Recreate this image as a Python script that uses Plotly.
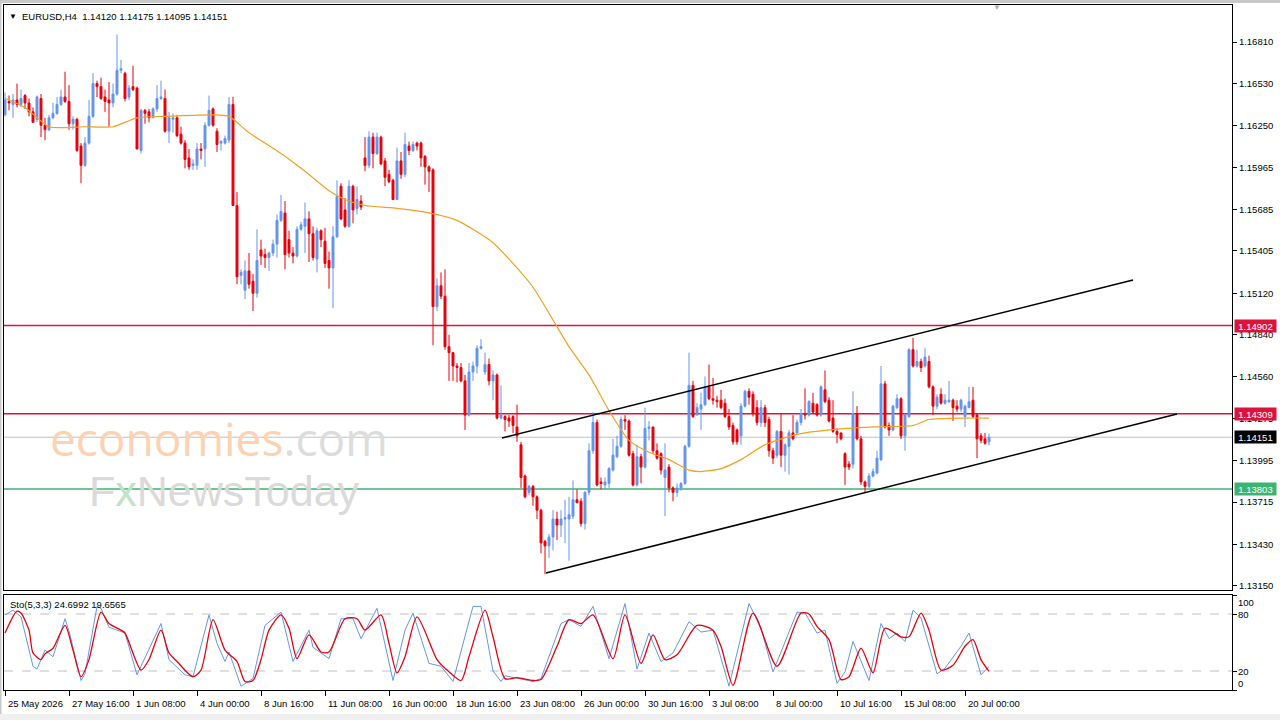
import plotly.graph_objects as go

# ---------------- data ----------------
open_ = [1.1632,1.1641,1.1639,1.1642,1.1639,1.1645,1.1640,1.1634,1.1629,1.1643,
         1.1625,1.1622,1.1630,1.1633,1.1639,1.1644,1.1641,1.1626,1.1629,1.1611,
         1.1598,1.1613,1.1631,1.1653,1.1651,1.1644,1.1642,1.1640,1.1646,1.1662,
         1.1660,1.1644,1.1651,1.1650,1.1608,1.1635,1.1634,1.1630,1.1636,1.1643,
         1.1643,1.1621,1.1629,1.1630,1.1619,1.1613,1.1603,1.1598,1.1598,1.1609,
         1.1609,1.1625,1.1636,1.1621,1.1613,1.1613,1.1615,1.1639,1.1571,1.1524,
         1.1514,1.1527,1.1520,1.1512,1.1541,1.1538,1.1536,1.1539,1.1545,1.1561,
         1.1566,1.1548,1.1539,1.1537,1.1555,1.1557,1.1562,1.1552,1.1535,1.1554,
         1.1547,1.1534,1.1529,1.1550,1.1584,1.1568,1.1557,1.1584,1.1569,1.1574,
         1.1603,1.1598,1.1617,1.1606,1.1617,1.1601,1.1592,1.1588,1.1575,1.1601,
         1.1592,1.1611,1.1608,1.1613,1.1613,1.1604,1.1597,1.1595,1.1503,1.1517,
         1.1510,1.1476,1.1472,1.1463,1.1462,1.1453,1.1430,1.1459,1.1463,1.1475,
         1.1459,1.1464,1.1453,1.1457,1.1428,1.1429,1.1428,1.1429,1.1422,1.1410,
         1.1389,1.1378,1.1382,1.1375,1.1366,1.1345,1.1342,1.1348,1.1360,1.1356,
         1.1360,1.1360,1.1362,1.1373,1.1372,1.1357,1.1378,1.1406,1.1425,1.1385,
         1.1383,1.1384,1.1393,1.1402,1.1409,1.1427,1.1426,1.1404,1.1383,1.1402,
         1.1395,1.1421,1.1422,1.1406,1.1404,1.1388,1.1395,1.1381,1.1378,1.1381,
         1.1384,1.1409,1.1450,1.1430,1.1434,1.1437,1.1449,1.1441,1.1440,1.1440,
         1.1438,1.1429,1.1423,1.1420,1.1416,1.1436,1.1446,1.1444,1.1435,1.1425,
         1.1435,1.1427,1.1406,1.1403,1.1419,1.1403,1.1409,1.1418,1.1418,1.1425,
         1.1431,1.1430,1.1438,1.1437,1.1430,1.1447,1.1440,1.1428,1.1419,1.1418,
         1.1404,1.1397,1.1397,1.1431,1.1414,1.1385,1.1382,1.1389,1.1391,1.1400,
         1.1451,1.1423,1.1420,1.1435,1.1441,1.1416,1.1429,1.1474,1.1463,1.1466,
         1.1463,1.1466,1.1449,1.1436,1.1444,1.1438,1.1439,1.1440,1.1436,1.1434,
         1.1429,1.1435,1.1440,1.1430,1.1416,1.1414,1.14120]
high = [1.1647,1.1645,1.1646,1.1653,1.1649,1.1646,1.1643,1.1637,1.1645,1.1646,
        1.1630,1.1632,1.1640,1.1644,1.1649,1.1661,1.1652,1.1631,1.1630,1.1613,
        1.1617,1.1642,1.1660,1.1655,1.1657,1.1649,1.1654,1.1653,1.1686,1.1669,
        1.1661,1.1652,1.1665,1.1651,1.1636,1.1636,1.1636,1.1637,1.1652,1.1655,
        1.1649,1.1634,1.1633,1.1632,1.1624,1.1615,1.1609,1.1602,1.1613,1.1613,
        1.1627,1.1645,1.1637,1.1623,1.1615,1.1618,1.1644,1.1644,1.1580,1.1528,
        1.1534,1.1539,1.1525,1.1555,1.1548,1.1542,1.1540,1.1548,1.1565,1.1578,
        1.1574,1.1554,1.1543,1.1557,1.1560,1.1573,1.1567,1.1557,1.1556,1.1555,
        1.1556,1.1540,1.1557,1.1588,1.1586,1.1576,1.1588,1.1585,1.1584,1.1578,
        1.1617,1.1621,1.1620,1.1620,1.1618,1.1603,1.1595,1.1589,1.1610,1.1607,
        1.1620,1.1614,1.1614,1.1614,1.1614,1.1605,1.1598,1.1596,1.1522,1.1526,
        1.1528,1.1484,1.1472,1.1465,1.1465,1.1457,1.1465,1.1466,1.1477,1.1481,
        1.1472,1.1468,1.1460,1.1458,1.1450,1.1430,1.1430,1.1430,1.1437,1.1412,
        1.1390,1.1383,1.1383,1.1376,1.1367,1.1346,1.1350,1.1366,1.1365,1.1366,
        1.1373,1.1375,1.1386,1.1380,1.1374,1.1379,1.1411,1.1432,1.1427,1.1388,
        1.1388,1.1395,1.1414,1.1416,1.1429,1.1430,1.1427,1.1406,1.1410,1.1404,
        1.1435,1.1426,1.1422,1.1411,1.1405,1.1411,1.1397,1.1382,1.1384,1.1385,
        1.1410,1.1472,1.1453,1.1438,1.1445,1.1456,1.1464,1.1455,1.1443,1.1447,
        1.1441,1.1434,1.1425,1.1421,1.1438,1.1447,1.1448,1.1446,1.1440,1.1440,
        1.1437,1.1429,1.1408,1.1420,1.1431,1.1411,1.1420,1.1430,1.1427,1.1434,
        1.1448,1.1440,1.1445,1.1438,1.1450,1.1460,1.1442,1.1440,1.1421,1.1418,
        1.1405,1.1399,1.1446,1.1436,1.1416,1.1386,1.1391,1.1394,1.1406,1.1463,
        1.1453,1.1425,1.1437,1.1444,1.1442,1.1431,1.1475,1.1482,1.1474,1.1468,
        1.1475,1.1470,1.1450,1.1444,1.1448,1.1444,1.1453,1.1441,1.1440,1.1441,
        1.1437,1.1449,1.1449,1.1431,1.1418,1.1418,1.14175]
low = [1.1631,1.1635,1.1630,1.1637,1.1637,1.1636,1.1631,1.1627,1.1627,1.1617,
       1.1615,1.1621,1.1629,1.1632,1.1638,1.1640,1.1622,1.1622,1.1607,1.1586,
       1.1597,1.1612,1.1630,1.1644,1.1642,1.1634,1.1624,1.1637,1.1645,1.1660,
       1.1641,1.1642,1.1648,1.1609,1.1606,1.1626,1.1627,1.1630,1.1634,1.1642,
       1.1620,1.1613,1.1620,1.1617,1.1612,1.1596,1.1595,1.1595,1.1595,1.1602,
       1.1597,1.1624,1.1624,1.1607,1.1608,1.1612,1.1613,1.1571,1.1518,1.1518,
       1.1508,1.1515,1.1500,1.1509,1.1531,1.1529,1.1527,1.1537,1.1536,1.1560,
       1.1528,1.1536,1.1532,1.1536,1.1554,1.1539,1.1533,1.1534,1.1526,1.1543,
       1.1529,1.1515,1.1502,1.1549,1.1561,1.1556,1.1556,1.1559,1.1565,1.1568,
       1.1594,1.1596,1.1596,1.1605,1.1598,1.1584,1.1586,1.1575,1.1575,1.1589,
       1.1590,1.1605,1.1607,1.1608,1.1597,1.1585,1.1580,1.1477,1.1500,1.1508,
       1.1474,1.1453,1.1453,1.1452,1.1452,1.1420,1.1429,1.1453,1.1458,1.1474,
       1.1457,1.1450,1.1440,1.1427,1.1427,1.1419,1.1422,1.1418,1.1412,1.1381,
       1.1374,1.1376,1.1369,1.1360,1.1337,1.1323,1.1334,1.1339,1.1346,1.1348,
       1.1344,1.1332,1.1360,1.1371,1.1355,1.1353,1.1376,1.1404,1.1382,1.1380,
       1.1380,1.1381,1.1392,1.1401,1.1408,1.1420,1.1402,1.1382,1.1382,1.1384,
       1.1394,1.1413,1.1404,1.1400,1.1390,1.1362,1.1378,1.1372,1.1375,1.1379,
       1.1383,1.1408,1.1428,1.1430,1.1420,1.1436,1.1440,1.1437,1.1435,1.1434,
       1.1428,1.1420,1.1410,1.1410,1.1410,1.1435,1.1437,1.1429,1.1423,1.1422,
       1.1422,1.1402,1.1397,1.1401,1.1395,1.1392,1.1390,1.1413,1.1417,1.1423,
       1.1427,1.1429,1.1431,1.1429,1.1429,1.1438,1.1425,1.1418,1.1411,1.1413,
       1.1383,1.1393,1.1394,1.1413,1.1383,1.1378,1.1381,1.1388,1.1390,1.1399,
       1.1421,1.1416,1.1419,1.1434,1.1414,1.1406,1.1428,1.1462,1.1462,1.1459,
       1.1462,1.1448,1.1430,1.1434,1.1437,1.1437,1.1438,1.1426,1.1432,1.1432,
       1.1422,1.1435,1.1428,1.1401,1.1411,1.1410,1.14095]
close = [1.1642,1.1640,1.1642,1.1639,1.1643,1.1640,1.1634,1.1627,1.1644,1.1625,
         1.1622,1.1630,1.1633,1.1639,1.1644,1.1641,1.1626,1.1629,1.1608,1.1598,
         1.1613,1.1631,1.1653,1.1651,1.1643,1.1641,1.1640,1.1646,1.1662,1.1663,
         1.1643,1.1650,1.1649,1.1609,1.1635,1.1633,1.1630,1.1636,1.1643,1.1644,
         1.1621,1.1630,1.1630,1.1618,1.1613,1.1602,1.1597,1.1599,1.1609,1.1608,
         1.1625,1.1635,1.1625,1.1612,1.1614,1.1616,1.1639,1.1571,1.1523,1.1526,
         1.1527,1.1518,1.1512,1.1534,1.1537,1.1536,1.1539,1.1545,1.1561,1.1567,
         1.1538,1.1539,1.1537,1.1555,1.1558,1.1562,1.1552,1.1536,1.1554,1.1548,
         1.1532,1.1529,1.1550,1.1577,1.1562,1.1557,1.1584,1.1568,1.1575,1.1570,
         1.1598,1.1617,1.1606,1.1617,1.1599,1.1590,1.1587,1.1575,1.1601,1.1592,
         1.1612,1.1608,1.1612,1.1611,1.1603,1.1597,1.1594,1.1503,1.1517,1.1510,
         1.1476,1.1472,1.1463,1.1462,1.1453,1.1430,1.1459,1.1463,1.1475,1.1476,
         1.1464,1.1453,1.1457,1.1428,1.1430,1.1427,1.1426,1.1423,1.1416,1.1388,
         1.1375,1.1382,1.1375,1.1366,1.1344,1.1342,1.1348,1.1360,1.1356,1.1360,
         1.1361,1.1363,1.1373,1.1371,1.1357,1.1378,1.1406,1.1425,1.1383,1.1384,
         1.1385,1.1394,1.1403,1.1409,1.1427,1.1426,1.1403,1.1383,1.1402,1.1395,
         1.1421,1.1422,1.1406,1.1401,1.1393,1.1393,1.1381,1.1378,1.1381,1.1384,
         1.1409,1.1450,1.1429,1.1435,1.1437,1.1449,1.1441,1.1440,1.1439,1.1435,
         1.1429,1.1422,1.1412,1.1412,1.1436,1.1446,1.1442,1.1431,1.1425,1.1435,
         1.1425,1.1406,1.1401,1.1419,1.1403,1.1410,1.1418,1.1414,1.1425,1.1431,
         1.1430,1.1439,1.1432,1.1430,1.1449,1.1439,1.1426,1.1419,1.1417,1.1414,
         1.1395,1.1395,1.1431,1.1414,1.1385,1.1382,1.1389,1.1392,1.1401,1.1451,
         1.1422,1.1420,1.1436,1.1441,1.1416,1.1430,1.1474,1.1463,1.1466,1.1462,
         1.1469,1.1449,1.1436,1.1442,1.1438,1.1440,1.1440,1.1435,1.1434,1.1440,
         1.1436,1.1439,1.1429,1.1414,1.1413,1.1411,1.14151]

# moving average (orange), read at selected bars
ma_bar = [0, 5, 11, 20, 27, 33, 40, 52, 56, 61, 69, 75, 81, 85, 90, 98, 106, 113,
          122, 127, 132, 137, 141, 146, 151, 156, 161, 166, 171, 174, 179, 184,
          190, 198, 206, 217, 227, 231, 240, 246]
ma_val = [1.1643, 1.1637, 1.1624, 1.1624, 1.1624, 1.1630, 1.1631, 1.1632, 1.1631,
          1.1620, 1.1606, 1.1594, 1.1581, 1.1575, 1.1571, 1.1569, 1.1566, 1.1561,
          1.1546, 1.1532, 1.1516, 1.1494, 1.1476, 1.1457, 1.1433, 1.1413, 1.1405,
          1.1400, 1.1393, 1.1392, 1.1394, 1.1400, 1.1410, 1.1417, 1.1420, 1.1422,
          1.1423, 1.1427, 1.1428, 1.1428]

# stochastic %K (blue) and %D (red)
k_bar = [0, 2, 4, 7, 8, 10, 12, 15, 16, 19, 20, 23, 24, 26, 30, 33, 39, 41, 45, 47,
         51, 53, 55, 56, 59, 62, 65, 69, 72, 76, 77, 81, 84, 87, 89, 93, 97, 100,
         102, 106, 109, 112, 117, 119, 122, 124, 125, 132, 134, 139, 141, 144, 147,
         151, 155, 158, 161, 164, 167, 171, 174, 177, 181, 186, 189, 192, 198, 200,
         203, 205, 208, 210, 212, 216, 219, 221, 223, 225, 227, 229, 233, 235, 239,
         241, 244, 246]
k_val = [79, 84, 77, 25, 22, 42, 35, 75, 62, 10, 17, 88, 86, 66, 60, 16, 70, 32, 16, 14,
         79, 49, 30, 40, 4, 12, 68, 82, 30, 63, 45, 33, 75, 75, 54, 86, 10, 63,
         81, 28, 25, 9, 88, 88, 20, 9, 15, 9, 12, 70, 74, 67, 88,
         33, 91, 22, 60, 30, 39, 72, 61, 63, 4, 91, 65, 19, 82, 81,
         60, 63, 7, 19, 51, 10, 70, 54, 60, 51, 84, 76, 17, 23, 46,
         60, 16, 24.6992]
d_bar = [0, 3, 4, 6, 7, 9, 10, 12, 15, 17, 19, 21, 24, 26, 29, 30, 34, 36, 39, 41,
         43, 47, 49, 52, 55, 58, 60, 62, 64, 66, 69, 71, 73, 76, 79, 81, 85, 88, 90,
         94, 96, 98, 100, 103, 108, 110, 114, 116, 120, 122, 125, 128, 132, 134, 138,
         141, 144, 147, 152, 155, 159, 162, 165, 168, 173, 177, 179, 182, 187, 193,
         199, 201, 203, 206, 209, 211, 214, 217, 220, 224, 226, 229, 231, 234, 237,
         240, 242, 244, 246]
d_val = [60, 83, 81, 63, 39, 32, 38, 44, 68, 42, 14, 32, 82, 70, 63, 60, 21, 32, 63, 39,
         30, 14, 21, 74, 42, 30, 9, 10, 32, 63, 79, 65, 33, 58, 40, 40, 75, 75, 63,
         79, 49, 18, 35, 77, 32, 23, 10, 35, 84, 56, 12, 13, 10, 11, 46,
         74, 70, 79, 33, 79, 28, 58, 32, 37, 68, 63, 46, 5, 81, 25,
         81, 80, 67, 53, 11, 14, 44, 18, 65, 56, 56, 81, 63, 21, 26,
         46, 53, 32, 19.6565]

# levels and trend channel
levels = [1.14902, 1.14309, 1.13803]
level_colors = ["#DC143C", "#DC143C", "#3CB371"]
bid_price = 1.14151
chan_upper_bar = [124.25, 282]
chan_upper_val = [1.14146, 1.15209]
chan_lower_bar = [135.25, 293]
chan_lower_val = [1.13237, 1.14307]

price_ticks = [1.16810, 1.16530, 1.16250, 1.15965, 1.15685, 1.15405, 1.15120,
               1.14840, 1.14560, 1.14275, 1.13995, 1.13715, 1.13430, 1.13150]
date_bars = [0, 16, 32, 48, 64, 80, 96, 112, 128, 144, 160, 176, 192, 208, 224, 240]
date_labels = ["25 May 2026", "27 May 16:00", "1 Jun 08:00", "4 Jun 00:00",
               "8 Jun 16:00", "11 Jun 08:00", "16 Jun 00:00", "18 Jun 16:00",
               "23 Jun 08:00", "26 Jun 00:00", "30 Jun 16:00", "3 Jul 08:00",
               "8 Jul 00:00", "10 Jul 16:00", "15 Jul 08:00", "20 Jul 00:00"]
header = "EURUSD,H4  1.14120 1.14175 1.14095 1.14151"
sto_header = "Sto(5,3,3) 24.6992 19.6565"

# ---------------- figure ----------------
W, H = 1280, 720
def px(x): return x / W
def py(y): return 1 - y / H

BULL = "#6495ED"
BEAR = "#E8000B"
FONT = "Liberation Sans, Arial, sans-serif"
FS = 9.5

X_RANGE = [-0.25, 306.75]
Y_RANGE = [1.13123, 1.17059]

fig = go.Figure()
bars = list(range(len(close)))
fig.add_trace(go.Candlestick(
    x=bars, open=open_, high=high, low=low, close=close,
    increasing=dict(line=dict(color=BULL, width=1), fillcolor=BULL),
    decreasing=dict(line=dict(color=BEAR, width=1), fillcolor=BEAR),
    whiskerwidth=0, hoverinfo="skip", xaxis="x", yaxis="y"))
fig.add_trace(go.Scatter(x=ma_bar, y=ma_val, mode="lines",
                         line=dict(color="#F5A01E", width=1.2, shape="spline", smoothing=0.6),
                         hoverinfo="skip", xaxis="x", yaxis="y"))
fig.add_trace(go.Scatter(x=k_bar, y=k_val, mode="lines",
                         line=dict(color=BULL, width=1),
                         hoverinfo="skip", xaxis="x2", yaxis="y2"))
fig.add_trace(go.Scatter(x=d_bar, y=d_val, mode="lines",
                         line=dict(color=BEAR, width=1.3, shape="spline", smoothing=0.7),
                         hoverinfo="skip", xaxis="x2", yaxis="y2"))

shapes = []
for lv, col in zip(levels, level_colors):
    shapes.append(dict(type="line", xref="x", yref="y", x0=X_RANGE[0], x1=X_RANGE[1],
                       y0=lv, y1=lv, line=dict(color=col, width=1.5), layer="below"))
shapes.append(dict(type="line", xref="x", yref="y", x0=X_RANGE[0], x1=X_RANGE[1],
                   y0=bid_price, y1=bid_price, line=dict(color="#C0C0C0", width=1),
                   layer="below"))
shapes.append(dict(type="line", xref="x", yref="y",
                   x0=chan_upper_bar[0], x1=chan_upper_bar[1],
                   y0=chan_upper_val[0], y1=chan_upper_val[1],
                   line=dict(color="black", width=1.5)))
shapes.append(dict(type="line", xref="x", yref="y",
                   x0=chan_lower_bar[0], x1=chan_lower_bar[1],
                   y0=chan_lower_val[0], y1=chan_lower_val[1],
                   line=dict(color="black", width=1.5)))
for lv in (80, 20):
    shapes.append(dict(type="line", xref="x2", yref="y2", x0=X_RANGE[0], x1=X_RANGE[1],
                       y0=lv, y1=lv, line=dict(color="#C0C0C0", width=1, dash="dash"),
                       layer="below"))
# outer window frame
shapes.append(dict(type="rect", xref="paper", yref="paper", x0=0, x1=1, y0=py(3), y1=1,
                   fillcolor="#C8C8C8", line=dict(width=0)))
shapes.append(dict(type="rect", xref="paper", yref="paper", x0=0, x1=px(1.5), y0=0, y1=1,
                   fillcolor="#C8C8C8", line=dict(width=0)))
shapes.append(dict(type="rect", xref="paper", yref="paper", x0=0, x1=1, y0=0, y1=py(714),
                   fillcolor="#EFEFEF", line=dict(width=0)))

ann = []
def txt(x, y, text, size=FS, color="black", xanchor="left", **kw):
    ann.append(dict(x=x, y=y, xref=kw.pop("xref", "paper"), yref=kw.pop("yref", "paper"),
                    text=text, showarrow=False, xanchor=xanchor,
                    yanchor=kw.pop("yanchor", "middle"),
                    font=dict(family=kw.pop("family", FONT), size=size, color=color), **kw))

txt(px(7), py(16), "▼", size=8)
txt(px(20), py(16), header)
txt(px(8), py(604), sto_header)
txt(px(997), py(8), "▼", size=8, color="#B0B0B0", xanchor="center")

# price boxes on the axis
for lv, col in zip(levels, level_colors):
    txt(px(1234), lv, f"{lv:.5f}", color="white", yref="y", bgcolor=col,
        width=41, height=12, borderpad=0)
txt(px(1234), bid_price, f"{bid_price:.5f}", color="white", yref="y", bgcolor="black",
    width=41, height=12, borderpad=0)

# stochastic scale
for lab, yy in (("100", 602), ("80", 614), ("20", 671), ("0", 683)):
    txt(px(1236), py(yy), lab)

# date labels
for b, lab in zip(date_bars, date_labels):
    txt(b, py(703), lab, xref="x2", xshift=1)

# watermark
ann.append(dict(x=px(48), y=py(438), xref="paper", yref="paper", showarrow=False,
                xanchor="left", yanchor="middle",
                text="<span style='color:#FBD2B2'>economies</span>"
                     "<span style='color:#DCDCDC'>.com</span>",
                font=dict(family="Open Sans, sans-serif", size=46)))
ann.append(dict(x=px(87), y=py(491), xref="paper", yref="paper", showarrow=False,
                xanchor="left", yanchor="middle",
                text="<span style='color:#DADADA'>F</span>"
                     "<span style='color:#BFE3C6'>x</span>"
                     "<span style='color:#DADADA'>NewsToday</span>",
                font=dict(family="Liberation Sans, sans-serif", size=43)))

axis_common = dict(showgrid=False, zeroline=False, showline=True, mirror=True,
                   linecolor="black", linewidth=1)

fig.update_layout(
    width=W, height=H, margin=dict(l=0, r=0, t=0, b=0),
    paper_bgcolor="white", plot_bgcolor="white", showlegend=False,
    hovermode=False, font=dict(family=FONT, size=FS, color="black"),
    shapes=shapes, annotations=ann,
    xaxis=dict(domain=[px(4), px(1232)], range=X_RANGE, anchor="y",
               showticklabels=False, ticks="", rangeslider=dict(visible=False),
               **axis_common),
    yaxis=dict(domain=[py(590), py(5)], range=Y_RANGE, anchor="x", side="right",
               tickvals=price_ticks, ticktext=[f"{v:.5f}" for v in price_ticks],
               ticks="outside", ticklen=4, tickcolor="black",
               tickfont=dict(family=FONT, size=FS), **axis_common),
    xaxis2=dict(domain=[px(4), px(1232)], range=X_RANGE, anchor="y2",
                tickvals=date_bars, ticktext=[""] * len(date_bars),
                ticks="outside", ticklen=5, tickcolor="black", **axis_common),
    yaxis2=dict(domain=[py(690), py(595)], range=[0, 100], anchor="x2", side="right",
                tickvals=[100, 80, 20, 0], showticklabels=False,
                ticks="outside", ticklen=4, tickcolor="black", **axis_common),
)

fig.write_html("out.html")
